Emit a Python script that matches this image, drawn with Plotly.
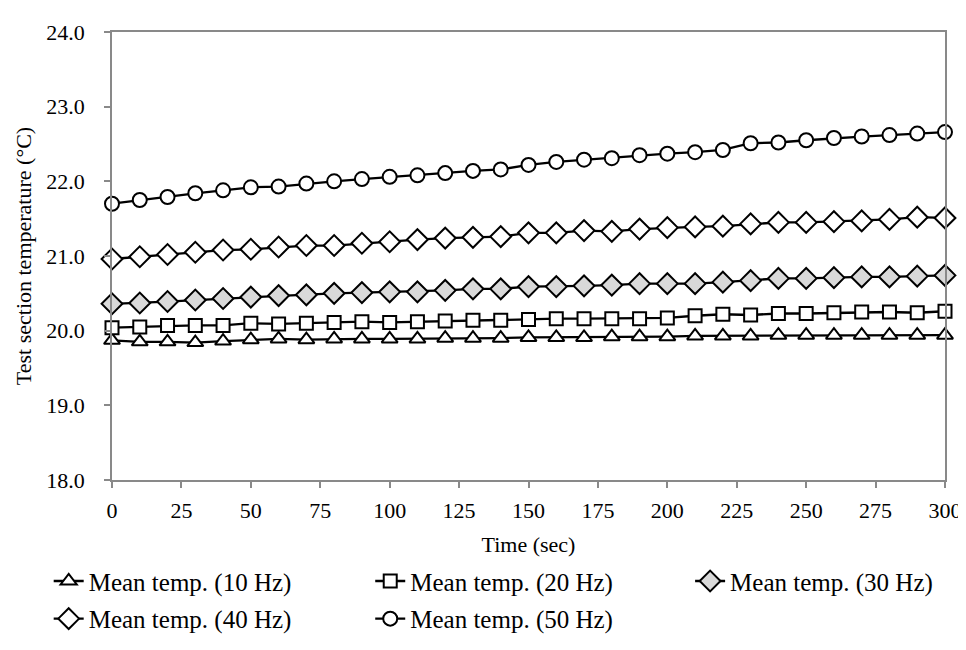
import plotly.graph_objects as go

time_sec = list(range(0, 301, 10))

temp_10hz = [19.87, 19.85, 19.85, 19.84, 19.86, 19.88, 19.89, 19.88, 19.89, 19.89,
             19.89, 19.89, 19.90, 19.90, 19.90, 19.91, 19.91, 19.91, 19.92, 19.92,
             19.92, 19.93, 19.93, 19.93, 19.94, 19.94, 19.94, 19.94, 19.94, 19.94, 19.94]
temp_20hz = [20.04, 20.05, 20.07, 20.07, 20.07, 20.10, 20.09, 20.10, 20.11, 20.12,
             20.11, 20.12, 20.13, 20.14, 20.14, 20.15, 20.16, 20.16, 20.16, 20.16,
             20.17, 20.20, 20.22, 20.21, 20.23, 20.23, 20.24, 20.25, 20.25, 20.24, 20.26]
temp_30hz = [20.36, 20.37, 20.39, 20.41, 20.43, 20.45, 20.47, 20.48, 20.50, 20.51,
             20.52, 20.52, 20.54, 20.56, 20.56, 20.59, 20.59, 20.60, 20.61, 20.63,
             20.63, 20.63, 20.65, 20.67, 20.70, 20.70, 20.71, 20.72, 20.72, 20.73, 20.74]
temp_40hz = [20.96, 20.99, 21.02, 21.05, 21.08, 21.09, 21.12, 21.14, 21.14, 21.17,
             21.19, 21.22, 21.24, 21.25, 21.26, 21.31, 21.31, 21.34, 21.33, 21.36,
             21.38, 21.39, 21.40, 21.43, 21.45, 21.45, 21.46, 21.47, 21.49, 21.52, 21.51]
temp_50hz = [21.70, 21.75, 21.79, 21.84, 21.88, 21.92, 21.93, 21.97, 22.00, 22.03,
             22.06, 22.08, 22.11, 22.14, 22.16, 22.22, 22.26, 22.29, 22.31, 22.35,
             22.37, 22.39, 22.42, 22.51, 22.52, 22.55, 22.58, 22.60, 22.62, 22.64, 22.66]

series_names = ["Mean temp. (10 Hz)", "Mean temp. (20 Hz)", "Mean temp. (30 Hz)",
                "Mean temp. (40 Hz)", "Mean temp. (50 Hz)"]
x_ticks = list(range(0, 301, 25))
y_ticks = [18, 19, 20, 21, 22, 23, 24]
y_tick_labels = ["18.0", "19.0", "20.0", "21.0", "22.0", "23.0", "24.0"]

styles = [
    dict(symbol="triangle-up", size=14, fill="white"),
    dict(symbol="square", size=13, fill="white"),
    dict(symbol="diamond", size=16, fill="#D9D9D9"),
    dict(symbol="diamond", size=16, fill="white"),
    dict(symbol="circle", size=14, fill="white"),
]

legend_ids = ["legend", "legend2", "legend3", "legend4", "legend5"]
legend_x = [-0.076, 0.310, 0.694, -0.076, 0.310]
legend_y = [-0.226, -0.226, -0.226, -0.310, -0.310]

font = "Liberation Serif, Times New Roman, serif"
legend_font_size = 25
axis_font_size = 22

fig = go.Figure()
for name, vals, st, lid in zip(series_names,
                               [temp_10hz, temp_20hz, temp_30hz, temp_40hz, temp_50hz],
                               styles, legend_ids):
    fig.add_trace(go.Scatter(
        x=time_sec, y=vals, name=name, mode="lines+markers",
        line=dict(color="black", width=2.3),
        marker=dict(symbol=st["symbol"], size=st["size"], color=st["fill"],
                    line=dict(color="black", width=2)),
        cliponaxis=False, legend=lid,
    ))

axis_common = dict(showgrid=False, zeroline=False, showline=True, linecolor="#898989",
                   linewidth=1.5, mirror=True, ticks="outside", ticklen=6,
                   tickcolor="#898989", tickwidth=1.5,
                   tickfont=dict(family=font, size=axis_font_size, color="black"))

layout_legends = {}
for lid, lx, ly in zip(legend_ids, legend_x, legend_y):
    layout_legends[lid] = dict(orientation="v", x=lx, xanchor="left", y=ly, yanchor="middle",
                               font=dict(family=font, size=legend_font_size, color="black"),
                               bgcolor="rgba(0,0,0,0)", borderwidth=0)

fig.update_layout(
    width=966, height=650,
    margin=dict(l=104, r=19, t=20, b=178),
    paper_bgcolor="white", plot_bgcolor="white",
    font=dict(family=font, size=axis_font_size, color="black"),
    xaxis=dict(range=[0, 300], tickvals=x_ticks, ticklabelstandoff=4,
               title=dict(text="Time (sec)", font=dict(family=font, size=axis_font_size), standoff=14),
               **axis_common),
    yaxis=dict(range=[18, 24], tickvals=y_ticks, ticktext=y_tick_labels, ticklabelstandoff=15,
               title=dict(text="Test section temperature (°C)", font=dict(family=font, size=axis_font_size), standoff=9),
               **axis_common),
    showlegend=True,
    **layout_legends,
)

fig.write_html("out.html")
